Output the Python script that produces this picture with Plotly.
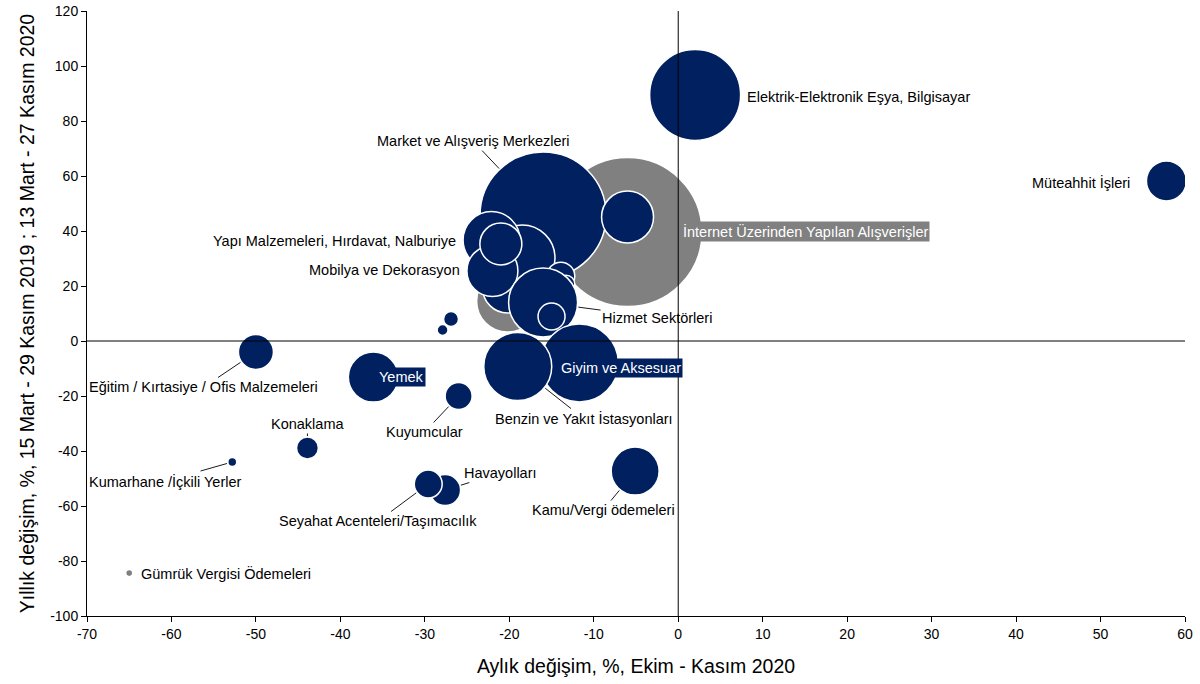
import plotly.graph_objects as go

# ---------------- data ----------------
# navy series (drawing order)
navy_names = [
    "Elektrik-Elektronik Eşya, Bilgisayar", "Müteahhit İşleri", "Market ve Alışveriş Merkezleri",
    "Diğer A", "Diğer B", "Diğer C", "Diğer D", "Diğer E",
    "Yapı Malzemeleri, Hırdavat, Nalburiye", "Mobilya ve Dekorasyon", "Diğer F",
    "Hizmet Sektörleri", "Diğer G", "Giyim ve Aksesuar", "Benzin ve Yakıt İstasyonları",
    "Yemek", "Eğitim / Kırtasiye / Ofis Malzemeleri", "Kuyumcular", "Diğer H", "Diğer I",
    "Konaklama", "Kumarhane /İçkili Yerler", "Havayolları", "Seyahat Acenteleri/Taşımacılık",
    "Kamu/Vergi ödemeleri",
]
navy_x = [2.0, 57.8, -16.0, -6.0, -20.2, -18.5, -13.9, -13.3,
          -22.1, -22.0, -21.0, -16.0, -15.0, -11.7, -19.0,
          -36.1, -50.0, -26.0, -26.9, -27.9, -43.9, -52.8, -27.6, -29.6, -5.1]
navy_y = [89.5, 58.2, 45.8, 45.1, 19.3, 30.2, 23.6, 20.7,
          36.7, 25.5, 35.3, 14.0, 8.9, -8.0, -9.3,
          -13.1, -4.0, -20.0, 8.0, 4.0, -38.9, -44.0, -54.2, -52.0, -47.3]
navy_share = [82.8, 16.0, 158.8, 27.0, 25.0, 43.6, 7.8, 3.2,
              32.5, 26.0, 17.6, 47.6, 7.3, 60.8, 46.2,
              25.0, 12.3, 7.3, 2.25, 1.2, 4.8, 0.8, 9.6, 7.8, 23.0]

# gray series
gray_names = ["İnternet Üzerinden Yapılan Alışverişler", "Diğer J", "Gümrük Vergisi Ödemeleri"]
gray_x = [-6.0, -20.2, -65.0]
gray_y = [39.6, 14.5, -84.4]
gray_share = [222.0, 38.4, 0.5]

x_ticks = list(range(-70, 61, 10))
y_ticks = list(range(-100, 121, 20))
x_ticktext = [str(v) for v in x_ticks]
y_ticktext = [str(v) for v in y_ticks]

NAVY = "#002060"
GRAY = "#808080"
FONT = "Liberation Sans, Arial, sans-serif"
SIZEREF = 0.02

fig = go.Figure()
fig.add_trace(go.Scatter(
    x=gray_x, y=gray_y, mode="markers", text=gray_names, hoverinfo="text",
    marker=dict(size=gray_share, sizemode="area", sizeref=SIZEREF, color=GRAY,
                line=dict(color="white", width=1.5), opacity=1),
    showlegend=False))
fig.add_trace(go.Scatter(
    x=navy_x, y=navy_y, mode="markers", text=navy_names, hoverinfo="text",
    marker=dict(size=navy_share, sizemode="area", sizeref=SIZEREF, color=NAVY,
                line=dict(color="white", width=1.5), opacity=1),
    showlegend=False))

def nidx(name):
    return navy_names.index(name)

def radius(share):
    return 10 * share ** 0.5 / 2

annotations = []
lab_font = dict(family=FONT, size=14.5, color="black")

# labels with leader lines: (name, ax, ay)
leaders = [
    ("Market ve Alışveriş Merkezleri", -70, -74),
    ("Hizmet Sektörleri", 114, 15),
    ("Benzin ve Yakıt İstasyonları", 66, 52),
    ("Eğitim / Kırtasiye / Ofis Malzemeleri", -52, 35),
    ("Kuyumcular", -34, 36),
    ("Konaklama", 0, -24),
    ("Kumarhane /İçkili Yerler", -67, 19),
    ("Havayolları", 55, -17),
    ("Seyahat Acenteleri/Taşımacılık", -50, 37),
    ("Kamu/Vergi ödemeleri", -32, 39),
]
for name, ax, ay in leaders:
    i = nidx(name)
    annotations.append(dict(
        x=navy_x[i], y=navy_y[i], xref="x", yref="y", text=name,
        showarrow=True, arrowhead=0, arrowwidth=0.9, arrowcolor="black",
        ax=ax, ay=ay, standoff=radius(navy_share[i]) + 1, font=lab_font))

# labels without leader lines
def plain(text, x, y, xanchor, bg=None, color="black"):
    d = dict(x=x, y=y, xref="x", yref="y", text=text, showarrow=False,
             xanchor=xanchor, yanchor="middle",
             font=dict(family=FONT, size=14.5, color=color), borderpad=1)
    if bg:
        d["bgcolor"] = bg
    annotations.append(d)

plain("Elektrik-Elektronik Eşya, Bilgisayar", 7.9, 88.7, "left")
plain("Müteahhit İşleri", 53.75, 57.8, "right")
plain("İnternet Üzerinden Yapılan Alışverişler", 0.35, 40.0, "left", bg=GRAY, color="white")
plain("Yapı Malzemeleri, Hırdavat, Nalburiye", -26.05, 36.4, "right")
plain("Mobilya ve Dekorasyon", -25.6, 25.8, "right")
plain("Giyim ve Aksesuar", -14.1, -9.8, "left", bg=NAVY, color="white")
plain("Yemek", -35.7, -13.1, "left", bg=NAVY, color="white")
plain("Gümrük Vergisi Ödemeleri", -63.8, -84.4, "left")

shapes = [
    dict(type="line", xref="x", yref="paper", x0=0, x1=0, y0=0, y1=1,
         line=dict(color="black", width=1), layer="above"),
    dict(type="line", xref="paper", yref="y", x0=0, x1=1, y0=0, y1=0,
         line=dict(color="black", width=1), layer="above"),
]

fig.update_layout(
    width=1200, height=684,
    margin=dict(l=87, r=15, t=11, b=68, autoexpand=False),
    paper_bgcolor="white", plot_bgcolor="white",
    font=dict(family=FONT, color="black"),
    annotations=annotations, shapes=shapes,
    xaxis=dict(range=[-70, 60], tickvals=x_ticks, ticktext=x_ticktext,
               showgrid=False, zeroline=False,
               showline=True, linecolor="black", linewidth=1,
               ticks="outside", ticklen=5, tickcolor="black",
               tickfont=dict(family=FONT, size=14, color="black"),
               title=dict(text="Aylık değişim, %, Ekim - Kasım 2020",
                          font=dict(family=FONT, size=19.5, color="black"), standoff=18),
               automargin=False),
    yaxis=dict(range=[-100, 120], tickvals=y_ticks, ticktext=y_ticktext,
               showgrid=False, zeroline=False,
               showline=True, linecolor="black", linewidth=1,
               ticks="outside", ticklen=5, tickcolor="black",
               tickfont=dict(family=FONT, size=14, color="black"),
               title=dict(text="Yıllık değişim, %, 15 Mart - 29 Kasım 2019 ; 13 Mart - 27 Kasım 2020",
                          font=dict(family=FONT, size=19.5, color="black"), standoff=10),
               automargin=False),
)

fig.write_html("out.html", config={"displayModeBar": False},
               post_script="document.body.style.margin='0px';")
